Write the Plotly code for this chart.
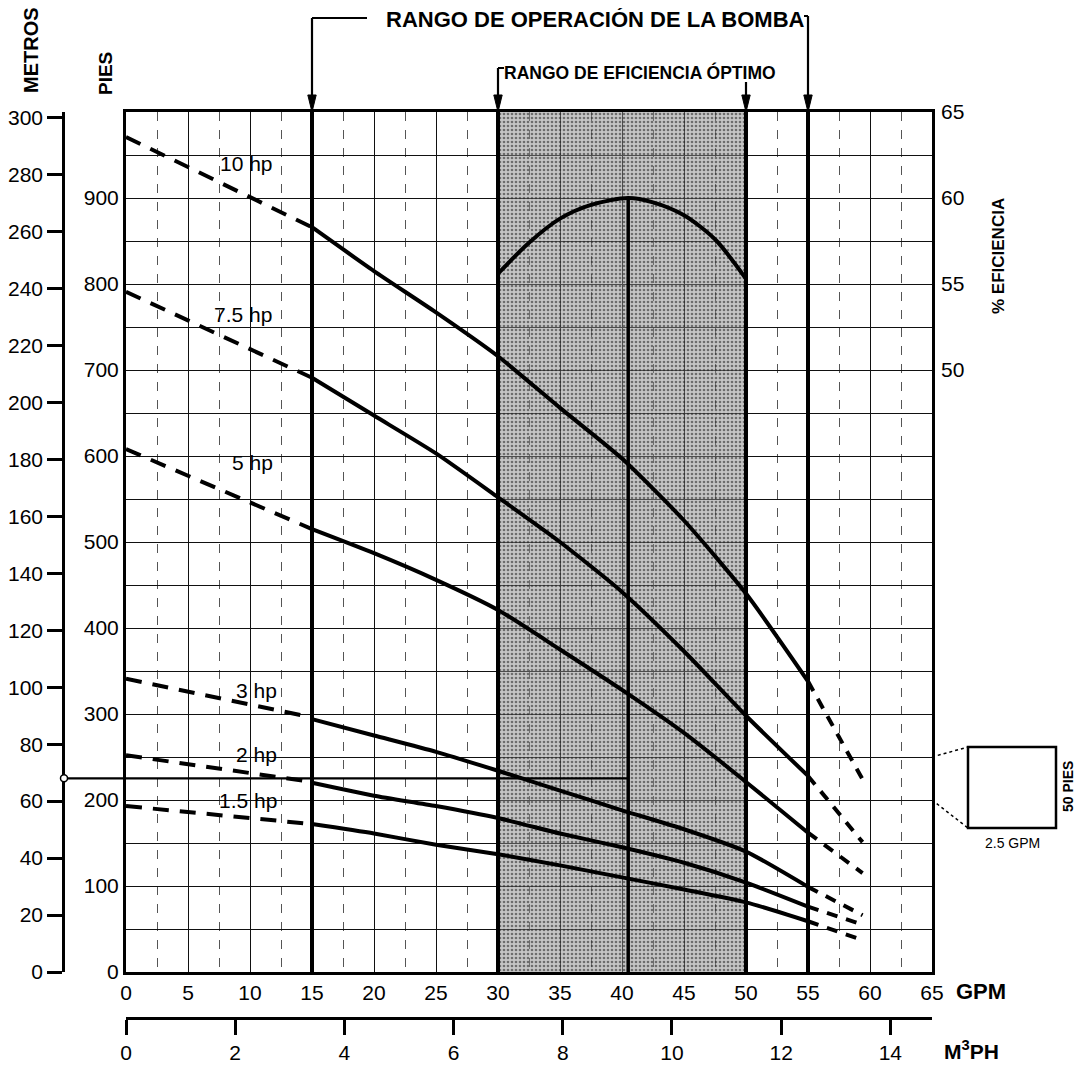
import plotly.graph_objects as go

# ---------------- data ----------------
gpm_left = [0, 15]
gpm_solid = [15, 20, 25, 30, 35, 40, 45, 50, 55]
gpm_right = [55, 59.4]

curve_names = ["10 hp", "7.5 hp", "5 hp", "3 hp", "2 hp", "1.5 hp"]
head_left = {
    "10 hp": [971, 866],
    "7.5 hp": [791, 691],
    "5 hp": [608, 515],
    "3 hp": [341, 296],
    "2 hp": [252, 221],
    "1.5 hp": [193, 172],
}
head_solid = {
    "10 hp": [866, 815, 767, 716, 656, 597, 525, 440, 338],
    "7.5 hp": [691, 647, 603, 552, 500, 442, 373, 298, 228],
    "5 hp": [515, 487, 456, 421, 375, 328, 278, 221, 162],
    "3 hp": [294, 275, 256, 234, 211, 188, 166, 140, 99],
    "2 hp": [220, 205, 193, 179, 161, 145, 127, 104, 76],
    "1.5 hp": [172, 161, 148, 137, 124, 110, 96, 81, 59],
}
head_right = {
    "10 hp": [338, 224],
    "7.5 hp": [228, 151],
    "5 hp": [162, 115],
    "3 hp": [99, 66],
    "2 hp": [76, 55],
    "1.5 hp": [59, 37],
}
label_gpm = [9.7, 9.4, 10.2, 10.5, 10.5, 9.8]
label_ft = [940, 765, 592, 327, 253, 199]

eff_gpm = [30, 32.5, 35, 37.5, 40.5, 42.5, 45, 47.5, 50]
eff_pct = [55.6, 57.4, 58.8, 59.6, 60.0, 59.75, 59.0, 57.6, 55.3]

op_range = [15, 55]
eff_range = [30, 50]
peak_gpm = 40.5
ref_head_m = 68
ref_gpm_end = 40.5
inset_cell_ft = [200, 250]

gpm_ticks = list(range(0, 66, 5))
ft_ticks = list(range(0, 901, 100))
m_ticks = list(range(0, 301, 20))
eff_ticks = [50, 55, 60, 65]
m3h_ticks = list(range(0, 15, 2))

GPM_MAX = 65
FT_MAX = 1000
M_MAX = 302          # metres scale as printed (300 m sits just below the frame top)
FT_PER_M = 3.28084
GPM_PER_M3H = 4.40287
EFF_RANGE = [15, 65]

# ---------------- layout helpers (screen coordinates; page body has 8px margin) ----------------
OFF = 8
W, H = 1083 - 2 * OFF, 1075 - 2 * OFF
PL, PR, PT, PB = 40, 932, 112, 1055          # plot-area box on screen
PW, PH = PR - PL, PB - PT
ML, MR, MT, MB = PL - OFF, W + OFF - PR, PT - OFF, H + OFF - PB


def px(xs):
    return (xs - PL) / PW


def py(ys):
    return (PB - ys) / PH


Y0 = py(972)     # bottom of the head axis (paper)
X0 = px(126)     # left of the GPM axis (paper)


def ft_paper(ft):
    return Y0 + ft / FT_MAX * (1 - Y0)


def m_paper(m):
    return Y0 + m / M_MAX * (1 - Y0)


FONT = "Liberation Sans"
BLACK = "#000000"

fig = go.Figure()

# stippled optimum-efficiency band
fig.add_trace(go.Scatter(
    x=[eff_range[0], eff_range[1], eff_range[1], eff_range[0], eff_range[0]],
    y=[0, 0, FT_MAX, FT_MAX, 0],
    fill="toself", mode="none", hoverinfo="skip", showlegend=False,
    fillcolor="rgba(140,140,140,0.5)",
    fillpattern=dict(shape=".", fgcolor="#161616", size=4, solidity=0.35, fillmode="overlay"),
))

# pump curves
for name in curve_names:
    fig.add_trace(go.Scatter(x=gpm_left, y=head_left[name], mode="lines",
                             line=dict(color=BLACK, width=4, dash="16px,11px"),
                             showlegend=False, hoverinfo="skip"))
    fig.add_trace(go.Scatter(x=gpm_solid, y=head_solid[name], mode="lines",
                             line=dict(color=BLACK, width=4, shape="spline", smoothing=0.6),
                             showlegend=False, name=name))
    fig.add_trace(go.Scatter(x=gpm_right, y=head_right[name], mode="lines",
                             line=dict(color=BLACK, width=4, dash="11px,9px"),
                             showlegend=False, hoverinfo="skip"))

# efficiency curve (right axis)
fig.add_trace(go.Scatter(x=eff_gpm, y=eff_pct, yaxis="y3", mode="lines",
                         line=dict(color=BLACK, width=4, shape="spline", smoothing=0.8),
                         showlegend=False, name="% eficiencia"))

# reference head line (metres)
fig.add_trace(go.Scatter(x=[0, ref_gpm_end], y=[ref_head_m, ref_head_m], yaxis="y2",
                         mode="lines", line=dict(color=BLACK, width=2.2),
                         showlegend=False, hoverinfo="skip"))
# keeps the M3PH axis alive
fig.add_trace(go.Scatter(x=[0], y=[0], xaxis="x2", mode="markers",
                         marker=dict(opacity=0), showlegend=False, hoverinfo="skip"))

shapes = []
# thick vertical range lines
for v in op_range + eff_range:
    shapes.append(dict(type="line", xref="x", yref="y domain", x0=v, x1=v, y0=0, y1=1,
                       line=dict(color=BLACK, width=4)))
shapes.append(dict(type="line", xref="x", yref="y3", x0=peak_gpm, x1=peak_gpm,
                   y0=EFF_RANGE[0], y1=max(eff_pct), line=dict(color=BLACK, width=3.5)))

# ref line continuation to metres axis + small circle on the axis
ref_y = m_paper(ref_head_m)
shapes.append(dict(type="line", xref="paper", yref="paper", x0=px(63), x1=X0,
                   y0=ref_y, y1=ref_y, line=dict(color=BLACK, width=2.2)))
r = 3.5
shapes.append(dict(type="circle", xref="paper", yref="paper",
                   x0=px(64 - r), x1=px(64 + r), y0=ref_y - r / PH, y1=ref_y + r / PH,
                   line=dict(color=BLACK, width=1.5), fillcolor="white"))

# brackets and arrows above the plot
gpm_px = (932 - 126) / GPM_MAX
hw = 4.2 / gpm_px
head_base = py(PT - 17)
for gx, tail in [(op_range[0], 18), (op_range[1], 16), (eff_range[0], 68), (eff_range[1], 82)]:
    shapes.append(dict(type="line", xref="x", yref="paper", x0=gx, x1=gx,
                       y0=py(tail), y1=head_base, line=dict(color=BLACK, width=2.2)))
    shapes.append(dict(type="path", xref="x", yref="paper",
                       path="M %f,%f L %f,%f L %f,%f Z" % (gx - hw, head_base, gx + hw, head_base, gx, 1.0),
                       fillcolor=BLACK, line=dict(color=BLACK, width=1)))
shapes.append(dict(type="line", xref="x", yref="paper", x0=op_range[0], x1=op_range[0] + 55 / gpm_px,
                   y0=py(18), y1=py(18), line=dict(color=BLACK, width=2)))
shapes.append(dict(type="line", xref="x", yref="paper", x0=op_range[1] - 4 / gpm_px, x1=op_range[1],
                   y0=py(16), y1=py(16), line=dict(color=BLACK, width=2)))
shapes.append(dict(type="line", xref="x", yref="paper", x0=eff_range[0], x1=eff_range[0] + 6 / gpm_px,
                   y0=py(68), y1=py(68), line=dict(color=BLACK, width=2)))

# magnified grid-cell inset
bx0, bx1, by0, by1 = 968, 1056, 747, 828
shapes.append(dict(type="rect", xref="paper", yref="paper", x0=px(bx0), x1=px(bx1),
                   y0=py(by1), y1=py(by0), line=dict(color=BLACK, width=2.5)))
shapes.append(dict(type="line", xref="paper", yref="paper", x0=1, x1=px(bx0),
                   y0=ft_paper(inset_cell_ft[1]), y1=py(by0),
                   line=dict(color=BLACK, width=1.5, dash="dot")))
shapes.append(dict(type="line", xref="paper", yref="paper", x0=1, x1=px(bx0),
                   y0=ft_paper(inset_cell_ft[0]), y1=py(by1),
                   line=dict(color=BLACK, width=1.5, dash="dot")))

ann = []
for name, gx, fy in zip(curve_names, label_gpm, label_ft):
    ann.append(dict(x=gx, y=fy, xref="x", yref="y", text=name, showarrow=False,
                    font=dict(size=21, family=FONT, color=BLACK)))


def txt(t, x, y, size, angle=0, b=True):
    return dict(x=px(x), y=py(y), xref="paper", yref="paper",
                text=("<b>%s</b>" % t) if b else t,
                showarrow=False, textangle=angle, xanchor="center", yanchor="middle",
                font=dict(size=size, family=FONT, color=BLACK))


ann += [
    txt("METROS", 31, 50, 20, -90),
    txt("PIES", 106, 74, 19, -90),
    txt("% EFICIENCIA", 998, 256, 17, -90),
    txt("GPM", 981, 991, 22),
    txt("M<sup>3</sup>PH", 972, 1050, 21),
    txt("RANGO DE OPERACIÓN DE LA BOMBA", 595, 20, 22),
    txt("RANGO DE EFICIENCIA ÓPTIMO", 640, 72, 17.5),
    txt("2.5 GPM", 1012, 843, 14, 0, False),
    txt("50 PIES", 1068, 787, 14, -90),
]

tickfont = dict(size=21, family=FONT, color=BLACK)
fig.update_layout(
    width=W, height=H,
    margin=dict(l=ML, r=MR, t=MT, b=MB, autoexpand=False),
    paper_bgcolor="white", plot_bgcolor="white",
    font=dict(family=FONT, color=BLACK),
    showlegend=False,
    xaxis=dict(domain=[X0, 1], range=[0, GPM_MAX], tickmode="array", tickvals=gpm_ticks,
               showgrid=True, gridcolor="#111111", gridwidth=1.4,
               minor=dict(tick0=0, dtick=2.5, showgrid=True, gridcolor="#555555",
                          griddash="dash", gridwidth=1),
               showline=True, linecolor=BLACK, linewidth=3, mirror=True,
               zeroline=False, ticks="", tickfont=tickfont),
    xaxis2=dict(overlaying="x", anchor="free", position=py(1018), side="bottom",
                range=[0, GPM_MAX / GPM_PER_M3H], tickmode="array", tickvals=m3h_ticks,
                ticks="outside", ticklen=15, tickwidth=2.5, tickcolor=BLACK,
                showline=True, linecolor=BLACK, linewidth=3, showgrid=False,
                zeroline=False, tickfont=tickfont),
    yaxis=dict(domain=[Y0, 1], range=[0, FT_MAX], tickmode="array", tickvals=ft_ticks,
               showgrid=True, gridcolor="#111111", gridwidth=1.4,
               minor=dict(tick0=0, dtick=50, showgrid=True, gridcolor="#111111", gridwidth=1.4),
               showline=True, linecolor=BLACK, linewidth=3, mirror=True,
               zeroline=False, ticks="", tickfont=tickfont),
    yaxis2=dict(overlaying="y", anchor="free", position=px(63), side="left",
                range=[0, M_MAX], tickmode="array", tickvals=m_ticks,
                ticks="outside", ticklen=15, tickwidth=2.5, tickcolor=BLACK,
                showline=True, linecolor=BLACK, linewidth=2.5, showgrid=False,
                zeroline=False, tickfont=tickfont),
    yaxis3=dict(overlaying="y", anchor="x", side="right", range=EFF_RANGE,
                tickmode="array", tickvals=eff_ticks, showgrid=False, showline=False,
                zeroline=False, ticks="", tickfont=tickfont, ticklabelstandoff=8),
    shapes=shapes,
    annotations=ann,
)

fig.write_html("out.html")
